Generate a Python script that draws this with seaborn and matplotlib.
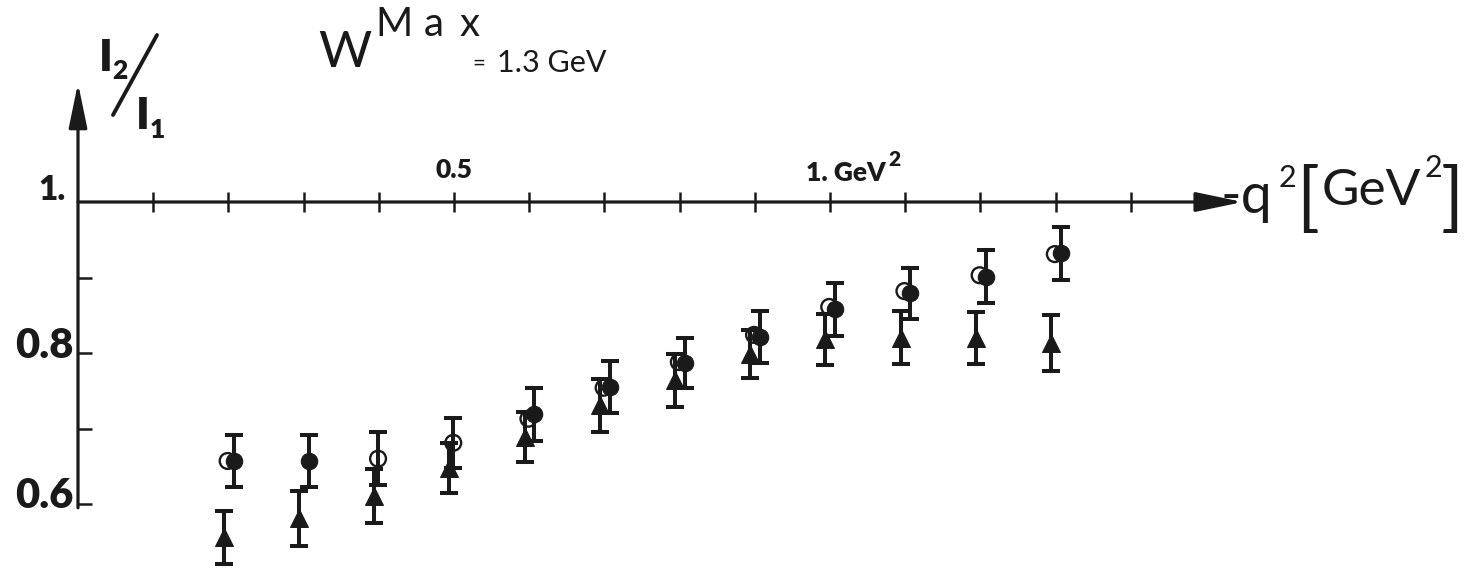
import numpy as np
import pandas as pd
import matplotlib
matplotlib.use("Agg")
import matplotlib.pyplot as plt
from matplotlib.lines import Line2D
import seaborn as sns

# -q^2 in GeV^2
q2 = [0.2, 0.3, 0.4, 0.5, 0.6, 0.7, 0.8, 0.9, 1.0, 1.1, 1.2, 1.3]

# I2/I1 ratios (nan where a set has no measurement)
ratio_filled = [0.657, 0.657, np.nan, np.nan, 0.719, 0.755, 0.787, 0.821, 0.858, 0.879, 0.901, 0.932]
err_filled = [0.034, 0.035, np.nan, np.nan, 0.035, 0.034, 0.033, 0.034, 0.035, 0.034, 0.035, 0.035]

ratio_open = [0.657, np.nan, 0.660, 0.681, 0.713, 0.754, 0.788, 0.824, 0.861, 0.882, 0.903, 0.931]
err_open = [np.nan, np.nan, 0.035, 0.033, np.nan, np.nan, np.nan, np.nan, np.nan, np.nan, np.nan, np.nan]

ratio_tri = [0.556, 0.581, 0.611, 0.648, 0.689, 0.731, 0.764, 0.799, 0.818, 0.820, 0.820, 0.813]
err_tri = [0.035, 0.036, 0.036, 0.033, 0.033, 0.035, 0.035, 0.032, 0.034, 0.035, 0.034, 0.037]

x_ticks = [0.1, 0.2, 0.3, 0.4, 0.5, 0.6, 0.7, 0.8, 0.9, 1.0, 1.1, 1.2, 1.3, 1.4]
y_ticks = [0.6, 0.7, 0.8, 0.9]

sns.set_theme(style="white")
plt.rcParams["font.family"] = ["Lato", "DejaVu Sans"]

W, H = 1464, 568
fig = plt.figure(figsize=(W / 100, H / 100), dpi=100)
ax = fig.add_axes([0, 0, 1, 1])
ax.set_facecolor("white")

# axis frame: origin of the drawing (x=0, y=1) and scale in pixels per unit
ox, oy, sx, sy = 78, 202, 752, 755
ax.set_xlim(-ox / sx, (W - ox) / sx)
ax.set_ylim(1 - (H - oy) / sy, 1 + oy / sy)

LW = 2.3
for s in ax.spines.values():
    s.set_visible(False)

# tick marks along the crossing axes
ax.spines["bottom"].set_position(("data", 1.0))
ax.spines["left"].set_position(("data", 0.0))
ax.set_xticks(x_ticks)
ax.set_yticks(y_ticks)
ax.tick_params(axis="x", direction="inout", length=14.5, width=1.8, color="k",
               bottom=True, top=False, labelbottom=False)
ax.tick_params(axis="y", direction="in", length=10, width=1.8, color="k",
               left=True, right=False, labelleft=False)
ax.grid(False)

# axes with arrow heads
ax.annotate("", xy=(1.549, 1.0), xytext=(0.0, 1.0),
            arrowprops=dict(arrowstyle="-|>,head_length=0.72,head_width=0.15",
                            mutation_scale=40, lw=LW, color="k",
                            shrinkA=0, shrinkB=0))
ax.annotate("", xy=(0.0, 1.1576), xytext=(0.0, 0.595),
            arrowprops=dict(arrowstyle="-|>,head_length=0.68,head_width=0.14",
                            mutation_scale=40, lw=LW, color="k",
                            shrinkA=0, shrinkB=0))

# horizontal dodge of the three data sets around each q^2
dodge = {"tri": -0.006, "open": -0.001, "filled": 0.007}

df = pd.DataFrame({
    "q2": q2,
    "filled": ratio_filled, "err_filled": err_filled,
    "open": ratio_open, "err_open": err_open,
    "tri": ratio_tri, "err_tri": err_tri,
})

EW = 2.9
for key in ["tri", "open", "filled"]:
    sub = df[df["err_" + key].notna()]
    ax.errorbar(sub["q2"] + dodge[key], sub[key], yerr=sub["err_" + key],
                fmt="none", ecolor="k", elinewidth=EW, capsize=6.3,
                capthick=EW, zorder=2)

tri = df[df["tri"].notna()].assign(x=lambda d: d["q2"] + dodge["tri"])
sns.scatterplot(data=tri, x="x", y="tri", marker="^", s=165, color="k",
                edgecolor="k", linewidth=0.8, ax=ax, zorder=3, legend=False)

opn = df[df["open"].notna()].assign(x=lambda d: d["q2"] + dodge["open"])
sns.scatterplot(data=opn, x="x", y="open", marker="o", s=130, color="k",
                edgecolor="k", linewidth=1.7, ax=ax, zorder=3, legend=False)
ax.collections[-1].set_facecolor("none")

fil = df[df["filled"].notna()].assign(x=lambda d: d["q2"] + dodge["filled"])
sns.scatterplot(data=fil, x="x", y="filled", marker="o", s=140, color="k",
                edgecolor="k", linewidth=0.8, ax=ax, zorder=4, legend=False)

ax.set_xlabel("")
ax.set_ylabel("")

fig.canvas.draw()
renderer = fig.canvas.get_renderer()


def fpos(x, y):
    return x / W, 1 - y / H


def put(x, y, s, size, weight="normal", ha="left"):
    return fig.text(*fpos(x, y), s, fontsize=size, fontweight=weight, ha=ha,
                    va="baseline", color="k")


def right_px(t):
    return t.get_window_extent(renderer).x1


# tick labels
put(66, 200, "1.", 24, "heavy", ha="right")
put(73, 358, "0.8", 30, "heavy", ha="right")
put(73, 508, "0.6", 30, "heavy", ha="right")
put(454, 178, "0.5", 19, "heavy", ha="center")
t = put(806, 181, "1. GeV", 19, "heavy")
put(right_px(t) + 3, 166, "2", 15, "heavy")

# y quantity I2/I1
put(99, 71, "I", 32, "heavy")
put(112, 79, "2", 19, "heavy")
fig.add_artist(Line2D([113 / W, 157 / W], [1 - 115 / H, 1 - 35 / H],
                      transform=fig.transFigure, color="k", lw=2.8))
put(136, 129, "I", 32, "heavy")
put(150, 138, "1", 19, "heavy")

# title: W with the superscript Max, then "= 1.3 GeV"
put(318, 67, "W", 37)
put(375, 36, "M", 29)
put(424, 36, "a", 29)
put(460, 36, "x", 29)
put(472, 70, "=", 16)
put(497, 72, "1.3 GeV", 22)

# x quantity
put(1220, 213, "-q", 40)
put(1279, 187, "2", 22)
br = put(1296, 222, "[", 54)
g = put(max(1322, right_px(br) + 1), 205, "GeV", 37)
put(right_px(g) + 3, 177, "2", 22)
put(1441, 222, "]", 54)

fig.savefig("out.png", dpi=100, facecolor="white")
